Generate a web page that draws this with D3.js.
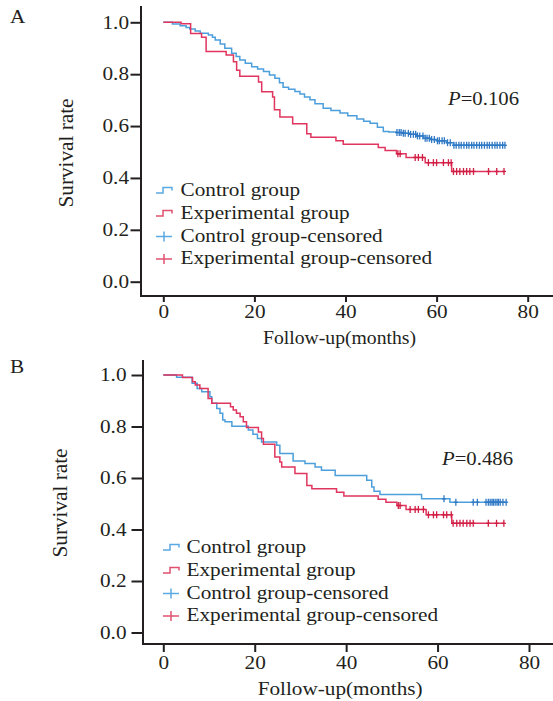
<!DOCTYPE html>
<html>
<head>
<meta charset="utf-8">
<script src="https://cdn.jsdelivr.net/npm/d3@7"></script>
<style>
  body { margin: 0; background: #fff; }
  text { font-family: "Liberation Serif", "Times New Roman", serif; fill: #231f20; }
</style>
</head>
<body>
<script>
// tick values
const monthTicks = [0, 20, 40, 60, 80];
const rateTicks = [0, 0.2, 0.4, 0.6, 0.8, 1.0];
const legendLabels = ['Control group', 'Experimental group', 'Control group-censored', 'Experimental group-censored'];
const pValues = ['0.106', '0.486'];

// panel A, control group
const aControlTime = [0, 2.0, 3.7, 5.0, 5.8, 7.0, 8.1, 9.9, 10.8, 11.4, 12.5, 13.5, 15.0, 16.0, 16.8, 18.0, 19.4, 20.7, 22.0, 23.3, 24.5, 25.5, 26.3, 27.5, 28.9, 30.0, 31.0, 32.2, 33.3, 35.1, 36.8, 38.8, 40.5, 42.5, 44.0, 45.4, 47.0, 48.3, 49.5, 51.2, 52.5, 54.1, 55.5, 57.1, 58.5, 60.0, 62.2, 63.7];
const aControlSurv = [1.0, 0.993, 0.987, 0.980, 0.974, 0.966, 0.958, 0.951, 0.942, 0.932, 0.916, 0.900, 0.881, 0.868, 0.855, 0.842, 0.829, 0.820, 0.810, 0.797, 0.784, 0.767, 0.750, 0.742, 0.733, 0.724, 0.712, 0.701, 0.686, 0.669, 0.660, 0.650, 0.640, 0.627, 0.619, 0.611, 0.595, 0.579, 0.577, 0.575, 0.572, 0.568, 0.562, 0.553, 0.548, 0.543, 0.536, 0.526];
const aControlCensor = [51.3, 51.8, 52.2, 52.7, 53.1, 53.8, 54.3, 54.9, 55.4, 55.8, 56.3, 57.0, 57.5, 57.9, 58.4, 58.9, 59.5, 60.2, 60.6, 61.2, 61.7, 62.4, 63.0, 63.8, 64.3, 64.9, 65.4, 66.0, 66.6, 67.1, 67.7, 68.2, 68.8, 69.4, 69.9, 70.5, 71.1, 71.6, 72.2, 72.8, 73.3, 73.9, 74.5, 75.0];

// panel A, experimental group
const aExpTime = [0, 3.9, 6.0, 8.4, 9.4, 13.8, 15.4, 16.1, 16.8, 20.9, 21.6, 24.0, 24.4, 25.6, 28.4, 31.5, 32.4, 37.9, 39.5, 47.2, 48.7, 51.2, 53.3, 57.5, 63.3];
const aExpSurv = [1.0, 0.994, 0.957, 0.942, 0.887, 0.874, 0.848, 0.815, 0.792, 0.770, 0.732, 0.712, 0.663, 0.635, 0.609, 0.570, 0.557, 0.543, 0.530, 0.517, 0.506, 0.493, 0.479, 0.459, 0.425];
const aExpCensor = [51.5, 52.0, 55.3, 56.0, 56.9, 58.2, 59.3, 60.0, 61.5, 62.6, 63.2, 63.7, 64.4, 65.1, 65.9, 66.6, 67.3, 68.1, 71.4, 73.2, 74.8];

// panel B, control group
const bControlTime = [0, 2.9, 6.3, 7.4, 8.4, 10.2, 10.6, 11.7, 12.4, 13.0, 13.5, 15.0, 18.6, 19.6, 20.6, 21.5, 24.8, 25.5, 28.4, 31.0, 33.2, 34.6, 37.6, 44.5, 45.6, 46.1, 47.4, 56.5, 62.7];
const bControlSurv = [1.0, 0.991, 0.968, 0.948, 0.935, 0.916, 0.890, 0.870, 0.851, 0.825, 0.818, 0.801, 0.786, 0.770, 0.753, 0.740, 0.727, 0.695, 0.666, 0.656, 0.643, 0.630, 0.610, 0.591, 0.565, 0.549, 0.536, 0.519, 0.506];
const bControlCensor = [61.4, 64.0, 67.8, 68.7, 70.6, 71.1, 71.5, 71.9, 72.2, 72.6, 73.0, 73.3, 73.7, 74.3, 75.0];

// panel B, experimental group
const bExpTime = [0, 4.2, 6.4, 7.0, 8.0, 9.8, 10.6, 14.7, 15.3, 16.0, 16.8, 17.5, 18.2, 20.8, 21.5, 21.9, 24.4, 25.5, 25.9, 28.8, 31.4, 32.5, 37.9, 39.5, 47.0, 48.7, 51.1, 53.1, 57.5, 63.1];
const bExpSurv = [1.0, 0.990, 0.974, 0.961, 0.948, 0.909, 0.890, 0.877, 0.864, 0.851, 0.838, 0.818, 0.796, 0.779, 0.753, 0.731, 0.682, 0.662, 0.643, 0.617, 0.571, 0.558, 0.545, 0.530, 0.517, 0.506, 0.493, 0.478, 0.457, 0.424];
const bExpCensor = [51.4, 51.8, 54.0, 55.1, 55.8, 56.9, 58.0, 59.1, 59.8, 61.3, 62.0, 63.0, 63.4, 64.2, 64.9, 65.6, 66.4, 67.1, 67.8, 71.1, 72.9, 74.5];

const blue = '#4d9fdc', red = '#e0355e';
const blueMark = '#2f78c4', redMark = '#d01e44';
const stretch = 1.18;

const svg = d3.select('body').append('svg')
  .attr('width', 553)
  .attr('height', 701);

const panels = [
  {
    letter: 'A', p: pValues[0],
    series: [
      { time: aControlTime, surv: aControlSurv, censor: aControlCensor, color: blue, mark: blueMark },
      { time: aExpTime, surv: aExpSurv, censor: aExpCensor, color: red, mark: redMark }
    ],
    xRange: [163.3, 527.7], yRange: [281.7, 22.3],
    axisX: 141, axisY: 296, axisTop: 6,
    yTick: 10.5, yPad: 1.5, xTick: 6, xLabelY: 22.5, xTitleY: 344, xTitleW: 153,
    yTitleX: 73, yTitleY: 153, letterY: 22.7,
    legendX: 156, legendTextX: 180.5, legendY: [195.5, 218.5, 241.5, 264],
    pX: 448, pY: 105
  },
  {
    letter: 'B', p: pValues[1],
    series: [
      { time: bControlTime, surv: bControlSurv, censor: bControlCensor, color: blue, mark: blueMark },
      { time: bExpTime, surv: bExpSurv, censor: bExpCensor, color: red, mark: redMark }
    ],
    xRange: [163.3, 529], yRange: [632.5, 375],
    axisX: 143, axisY: 644, axisTop: 360,
    yTick: 11.5, yPad: 5, xTick: 8, xLabelY: 25.5, xTitleY: 695, xTitleW: 165,
    yTitleX: 67, yTitleY: 503, letterY: 373.3,
    legendX: 163, legendTextX: 186.5, legendY: [552.5, 575.5, 598.5, 621],
    pX: 442, pY: 465
  }
];

function survAt(s, t) {
  let v = s.surv[0];
  s.time.forEach((tt, i) => { if (tt <= t) v = s.surv[i]; });
  return v;
}

function drawPanel(cfg) {
  const g = svg.append('g');
  const x = d3.scaleLinear().domain([0, 80]).range(cfg.xRange);
  const y = d3.scaleLinear().domain([0, 1]).range(cfg.yRange);

  // axes
  const yAxis = d3.axisLeft(y).tickValues(rateTicks).tickFormat(d3.format('.1f'))
    .tickSize(cfg.yTick).tickPadding(cfg.yPad);
  const ya = g.append('g').attr('transform', `translate(${cfg.axisX},0)`).call(yAxis);
  ya.select('.domain').remove();
  ya.selectAll('line').attr('stroke', '#231f20').attr('stroke-width', 2);
  ya.selectAll('text')
    .attr('font-size', 18)
    .attr('font-family', '"Liberation Serif", serif')
    .attr('x', -(cfg.yTick + cfg.yPad) / stretch)
    .attr('transform', `scale(${stretch},1)`);

  const xAxis = d3.axisBottom(x).tickValues(monthTicks).tickSize(cfg.xTick);
  const xa = g.append('g').attr('transform', `translate(0,${cfg.axisY})`).call(xAxis);
  xa.select('.domain').remove();
  xa.selectAll('line').attr('stroke', '#231f20').attr('stroke-width', 2);
  xa.selectAll('text')
    .attr('font-size', 18)
    .attr('font-family', '"Liberation Serif", serif')
    .attr('y', cfg.xLabelY).attr('dy', 0)
    .attr('transform', `scale(${stretch},1)`);

  g.append('line')
    .attr('x1', cfg.axisX).attr('x2', cfg.axisX)
    .attr('y1', cfg.axisTop).attr('y2', cfg.axisY + 1)
    .attr('stroke', '#231f20').attr('stroke-width', 2);
  g.append('line')
    .attr('x1', cfg.axisX - 1).attr('x2', 553)
    .attr('y1', cfg.axisY).attr('y2', cfg.axisY)
    .attr('stroke', '#231f20').attr('stroke-width', 2);

  // titles
  g.append('text')
    .attr('x', (x(0) + x(80)) / 2 - 6).attr('y', cfg.xTitleY)
    .attr('text-anchor', 'middle').attr('font-size', 18.5)
    .attr('textLength', cfg.xTitleW).attr('lengthAdjust', 'spacingAndGlyphs')
    .text('Follow-up(months)');
  g.append('text')
    .attr('transform', `translate(${cfg.yTitleX},${cfg.yTitleY}) rotate(-90)`)
    .attr('text-anchor', 'middle').attr('font-size', 20)
    .attr('textLength', 109).attr('lengthAdjust', 'spacingAndGlyphs')
    .text('Survival rate');
  g.append('text')
    .attr('transform', `translate(10,${cfg.letterY}) scale(${stretch},1)`)
    .attr('font-size', 18)
    .text(cfg.letter);

  const pt = g.append('text')
    .attr('x', cfg.pX).attr('y', cfg.pY).attr('font-size', 18.5)
    .attr('textLength', 71).attr('lengthAdjust', 'spacingAndGlyphs');
  pt.append('tspan').attr('font-style', 'italic').text('P');
  pt.append('tspan').text('=' + cfg.p);

  // survival curves
  const line = d3.line().x(d => x(d[0])).y(d => y(d[1])).curve(d3.curveStepAfter);
  cfg.series.forEach(s => {
    const end = d3.max(s.censor);
    const pts = s.time.map((t, i) => [t, s.surv[i]]);
    pts.push([end, s.surv[s.surv.length - 1]]);
    g.append('path')
      .attr('d', line(pts))
      .attr('fill', 'none')
      .attr('stroke', s.color)
      .attr('stroke-width', 1.5);
  });

  // censored marks
  cfg.series.forEach(s => {
    const mg = g.append('g').attr('stroke', s.mark).attr('stroke-width', 1.3);
    s.censor.forEach(t => {
      const cx = x(t), cy = y(survAt(s, t));
      mg.append('line').attr('x1', cx).attr('x2', cx).attr('y1', cy - 3.5).attr('y2', cy + 3.5);
      mg.append('line').attr('x1', cx - 2).attr('x2', cx + 2).attr('y1', cy).attr('y2', cy);
    });
  });

  // legend
  const lx = cfg.legendX;
  legendLabels.forEach((label, i) => {
    const by = cfg.legendY[i];
    const col = i % 2 === 0 ? '#5aa9e2' : '#e0506f';
    if (i < 2) {
      g.append('path')
        .attr('d', `M${lx},${by - 2.5}H${lx + 7}V${by - 8}H${lx + 16}V${by - 5}`)
        .attr('fill', 'none').attr('stroke', col).attr('stroke-width', 1.5);
    } else {
      g.append('line').attr('x1', lx).attr('x2', lx + 16).attr('y1', by - 5).attr('y2', by - 5)
        .attr('stroke', col).attr('stroke-width', 1.5);
      g.append('line').attr('x1', lx + 8).attr('x2', lx + 8).attr('y1', by - 10).attr('y2', by)
        .attr('stroke', col).attr('stroke-width', 1.5);
    }
    g.append('text')
      .attr('transform', `translate(${cfg.legendTextX},${by}) scale(${stretch},1)`)
      .attr('font-size', 18)
      .text(label);
  });
}

panels.forEach(drawPanel);
</script>
</body>
</html>
